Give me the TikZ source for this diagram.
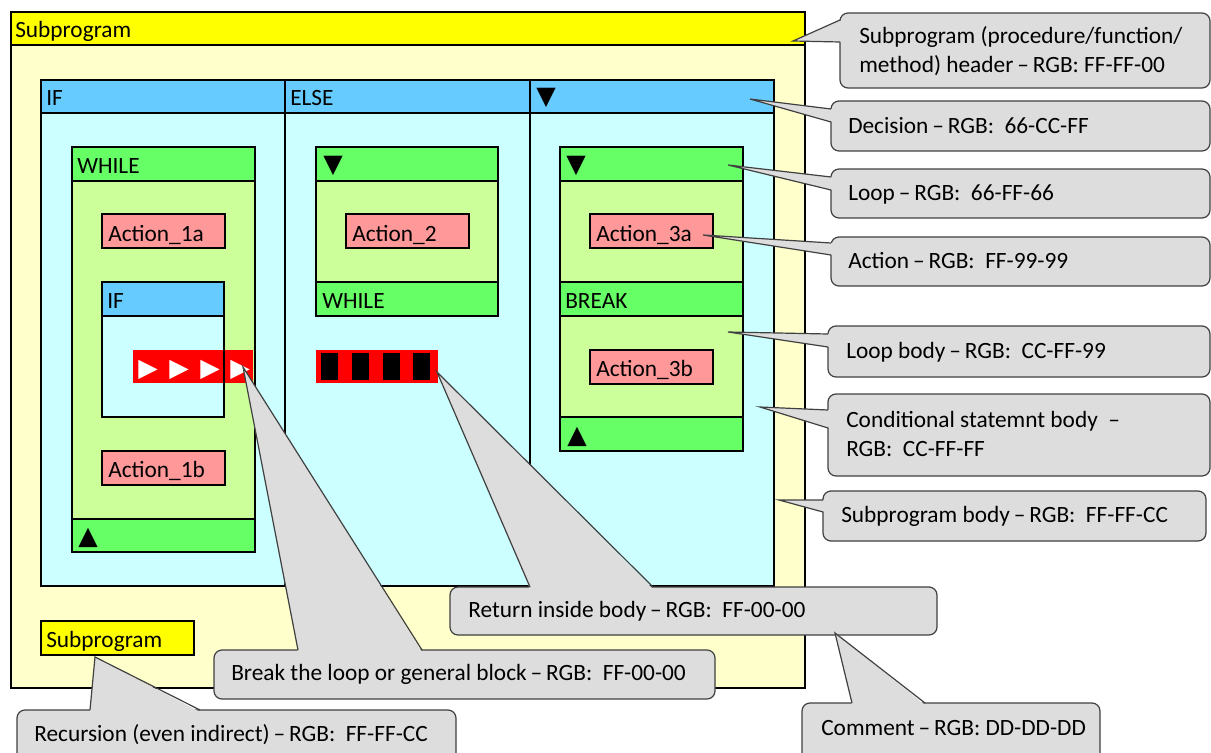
\documentclass[tikz,border=0pt]{standalone}
\usepackage{fontspec}
\setmainfont{Carlito}
\newfontfamily\symf{DejaVu Sans}
\usetikzlibrary{calc}
\definecolor{yhdr}{HTML}{FFFF00}
\definecolor{ybody}{HTML}{FFFFCC}
\definecolor{dhdr}{HTML}{66CCFF}
\definecolor{dbody}{HTML}{CCFFFF}
\definecolor{lhdr}{HTML}{66FF66}
\definecolor{lbody}{HTML}{CCFF99}
\definecolor{act}{HTML}{FF9999}
\definecolor{redbar}{HTML}{FF0000}
\definecolor{cmt}{HTML}{DDDDDD}
\definecolor{cedge}{HTML}{404040}
\begin{document}
\begin{tikzpicture}[x=0.75pt,y=-0.75pt,
  px/.style 2 args={minimum width=#1*0.75pt, minimum height=#2*0.75pt},
  blk/.style={draw=black, line width=2.2pt, inner sep=0pt, outer sep=0pt, anchor=north west},
  plain/.style={inner sep=0pt, outer sep=0pt, anchor=north west},
  lbl/.style={anchor=base west, inner sep=0pt, font=\fontsize{17.5}{21}\selectfont},
  sym/.style={anchor=base west, inner sep=0pt, font=\symf\fontsize{19}{22}\selectfont},
  cbox/.style={draw=cedge, line width=0.9pt, fill=cmt, rounded corners=6pt, inner sep=0pt, outer sep=0pt, anchor=north west},
  cline/.style={draw=cedge, line width=0.9pt, line join=miter},
]
\useasboundingbox (0,0) rectangle (1211,753);
\clip (0,0) rectangle (1211,753);

% ---------- subprogram ----------
\node[blk, fill=ybody, px={794}{643}] (subbody) at (11,45) {};
\node[blk, fill=yhdr, px={794}{33}] (subhdr) at (11,12) {};
\node[lbl] (subhdrT) at (15,37) {Subprogram};

% ---------- decision ----------
\node[blk, fill=dbody, px={244}{473}] (ifbody) at (41,113) {};
\node[blk, fill=dbody, px={245}{473}] (elsebody) at (285,113) {};
\node[blk, fill=dbody, px={244}{473}] (endbody) at (530,113) {};
\node[blk, fill=dhdr, px={244}{33}] (ifhdr) at (41,80) {};
\node[blk, fill=dhdr, px={245}{33}] (elsehdr) at (285,80) {};
\node[blk, fill=dhdr, px={244}{33}] (endhdr) at (530,80) {};
\node[lbl] (ifT) at (46,105) {IF};
\node[lbl] (elseT) at (290,105) {ELSE};
\node[sym] (endT) at (536,104) {▼};

% ---------- column 1 ----------
\node[blk, fill=lbody, px={183}{338}] (w1body) at (72,181) {};
\node[blk, fill=lhdr, px={183}{34}] (w1hdr) at (72,147) {};
\node[blk, fill=lhdr, px={183}{33}] (w1ftr) at (72,519) {};
\node[lbl] (w1T) at (77,173) {WHILE};
\node[sym] (w1E) at (78,544) {▲};
\node[blk, fill=act, px={123}{34}] (a1a) at (102,214) {};
\node[lbl] (a1aT) at (108,241) {Action\_1a};
\node[blk, fill=dbody, px={122}{101}] (if2body) at (102,316) {};
\node[blk, fill=dhdr, px={122}{34}] (if2hdr) at (102,282) {};
\node[lbl] (if2T) at (107,308) {IF};
\node[plain, fill=redbar, px={120}{33}] (brk) at (133,350) {};
\draw[line width=2.2pt] (if2hdr.north west) rectangle (if2body.south east);
\node[sym, text=white] (bt1) at (138,376) {▶};
\node[sym, text=white] (bt2) at (169,376) {▶};
\node[sym, text=white] (bt3) at (200,376) {▶};
\node[sym, text=white] (bt4) at (230,376) {▶};
\node[blk, fill=act, px={123}{34}] (a1b) at (102,451) {};
\node[lbl] (a1bT) at (108,477) {Action\_1b};

% ---------- column 2 ----------
\node[blk, fill=lbody, px={182}{101}] (l2body) at (316,181) {};
\node[blk, fill=lhdr, px={182}{34}] (l2hdr) at (316,147) {};
\node[blk, fill=lhdr, px={182}{34}] (l2ftr) at (316,282) {};
\node[sym] (l2T) at (323,172) {▼};
\node[lbl] (l2F) at (322,308) {WHILE};
\node[blk, fill=act, px={123}{34}] (a2) at (346,214) {};
\node[lbl] (a2T) at (352,241) {Action\_2};
\node[plain, fill=redbar, px={122}{33}] (ret) at (316,350) {};
\node[plain, fill=black, px={17}{27}] (rb1) at (321,353) {};
\node[plain, fill=black, px={17}{27}] (rb2) at (352,353) {};
\node[plain, fill=black, px={17}{27}] (rb3) at (382.5,353) {};
\node[plain, fill=black, px={17}{27}] (rb4) at (413,353) {};

% ---------- column 3 ----------
\node[blk, fill=lbody, px={183}{101}] (l3b1) at (560,181) {};
\node[blk, fill=lbody, px={183}{101}] (l3b2) at (560,316) {};
\node[blk, fill=lhdr, px={183}{34}] (l3hdr) at (560,147) {};
\node[blk, fill=lhdr, px={183}{34}] (l3brk) at (560,282) {};
\node[blk, fill=lhdr, px={183}{34}] (l3ftr) at (560,417) {};
\node[sym] (l3T) at (566,172) {▼};
\node[lbl] (l3B) at (565,308) {BREAK};
\node[sym] (l3E) at (567,443) {▲};
\node[blk, fill=act, px={123}{34}] (a3a) at (590,214) {};
\node[lbl] (a3aT) at (596,241) {Action\_3a};
\node[blk, fill=act, px={123}{34}] (a3b) at (590,350) {};
\node[lbl] (a3bT) at (596,376) {Action\_3b};

% ---------- recursion ----------
\node[blk, fill=yhdr, px={153}{34}] (rec) at (41,621) {};
\node[lbl] (recT) at (46,647) {Subprogram};

% ---------- callouts (left pointers) ----------
% c1
\node[cbox, px={370}{75}] (c1) at (840,13) {};
\coordinate (t1) at (793,41); \coordinate (b1a) at (840,20); \coordinate (b1b) at (840,42);
\fill[cmt] (t1) -- ($(b1a)+(2,0)$) -- ($(b1b)+(2,0)$) -- cycle;
\draw[cline] (b1a) -- (t1) -- (b1b);
\node[lbl] (c1T1) at (859,43) {Subprogram (procedure/function/};
\node[lbl] (c1T2) at (859,72) {method) header\,–\,RGB: FF-FF-00};
% c2
\node[cbox, px={379}{50}] (c2) at (831,101) {};
\coordinate (t2) at (750,99); \coordinate (b2a) at (831,109); \coordinate (b2b) at (831,122);
\fill[cmt] (t2) -- ($(b2a)+(2,0)$) -- ($(b2b)+(2,0)$) -- cycle;
\draw[cline] (b2a) -- (t2) -- (b2b);
\node[lbl] (c2T) at (848,133) {Decision\,–\,RGB:\ \ 66-CC-FF};
% c3
\node[cbox, px={379}{49}] (c3) at (831,169) {};
\coordinate (t3) at (728,165); \coordinate (b3a) at (831,177); \coordinate (b3b) at (831,190);
\fill[cmt] (t3) -- ($(b3a)+(2,0)$) -- ($(b3b)+(2,0)$) -- cycle;
\draw[cline] (b3a) -- (t3) -- (b3b);
\node[lbl] (c3T) at (848,200) {Loop\,–\,RGB:\ \ 66-FF-66};
% c4
\node[cbox, px={379}{49}] (c4) at (831,237) {};
\coordinate (t4) at (703,235); \coordinate (b4a) at (831,243); \coordinate (b4b) at (831,255);
\fill[cmt] (t4) -- ($(b4a)+(2,0)$) -- ($(b4b)+(2,0)$) -- cycle;
\draw[cline] (b4a) -- (t4) -- (b4b);
\node[lbl] (c4T) at (848,268) {Action\,–\,RGB:\ \ FF-99-99};
% c5
\node[cbox, px={382}{51}] (c5) at (828,326) {};
\coordinate (t5) at (728,332); \coordinate (b5a) at (828,334); \coordinate (b5b) at (828,347);
\fill[cmt] (t5) -- ($(b5a)+(2,0)$) -- ($(b5b)+(2,0)$) -- cycle;
\draw[cline] (b5a) -- (t5) -- (b5b);
\node[lbl] (c5T) at (846,358) {Loop body\,–\,RGB:\ \ CC-FF-99};
% c6
\node[cbox, px={382}{82}] (c6) at (828,394) {};
\coordinate (t6) at (760,407); \coordinate (b6a) at (828,410); \coordinate (b6b) at (828,428);
\fill[cmt] (t6) -- ($(b6a)+(2,0)$) -- ($(b6b)+(2,0)$) -- cycle;
\draw[cline] (b6a) -- (t6) -- (b6b);
\node[lbl] (c6T1) at (846,427) {Conditional statemnt body\ \ –};
\node[lbl] (c6T2) at (846,456) {RGB:\ \ CC-FF-FF};
% c7
\node[cbox, px={383}{50}] (c7) at (823,491) {};
\coordinate (t7) at (779,500); \coordinate (b7a) at (823,500); \coordinate (b7b) at (823,512);
\fill[cmt] (t7) -- ($(b7a)+(2,0)$) -- ($(b7b)+(2,0)$) -- cycle;
\draw[cline] (b7a) -- (t7) -- (b7b);
\node[lbl] (c7T) at (841,522) {Subprogram body\,–\,RGB:\ \ FF-FF-CC};

% ---------- callouts (top pointers) ----------
% c8
\node[cbox, px={487}{48}] (c8) at (450,587) {};
\coordinate (t8) at (437,372); \coordinate (b8a) at (530,587); \coordinate (b8b) at (653,587);
\fill[cmt] (t8) -- ($(b8a)+(0,2)$) -- ($(b8b)+(0,2)$) -- cycle;
\draw[cline] (b8a) -- (t8) -- (b8b);
\node[lbl] (c8T) at (468,617) {Return inside body\,–\,RGB:\ \ FF-00-00};
% c9
\node[cbox, px={501}{49}] (c9) at (214,650) {};
\coordinate (t9) at (243,367); \coordinate (b9a) at (298,650); \coordinate (b9b) at (422,650);
\fill[cmt] (t9) -- ($(b9a)+(0,2)$) -- ($(b9b)+(0,2)$) -- cycle;
\draw[cline] (b9a) -- (t9) -- (b9b);
\node[lbl] (c9T) at (231,680) {Break the loop or general block\,–\,RGB:\ \ FF-00-00};
% c10
\node[cbox, px={439}{70}] (c10) at (17,710) {};
\coordinate (t10) at (95,657); \coordinate (b10a) at (90,710); \coordinate (b10b) at (200,710);
\fill[cmt] (t10) -- ($(b10a)+(0,2)$) -- ($(b10b)+(0,2)$) -- cycle;
\draw[cline] (b10a) -- (t10) -- (b10b);
\node[lbl] (c10T) at (34,741) {Recursion (even indirect)\,–\,RGB:\ \ FF-FF-CC};
% c11
\node[cbox, px={298}{70}] (c11) at (802,703) {};
\coordinate (t11) at (835,633); \coordinate (b11a) at (852,703); \coordinate (b11b) at (925,703);
\fill[cmt] (t11) -- ($(b11a)+(0,2)$) -- ($(b11b)+(0,2)$) -- cycle;
\draw[cline] (b11a) -- (t11) -- (b11b);
\node[lbl] (c11T) at (821,735) {Comment\,–\,RGB: DD-DD-DD};
\end{tikzpicture}
\end{document}
